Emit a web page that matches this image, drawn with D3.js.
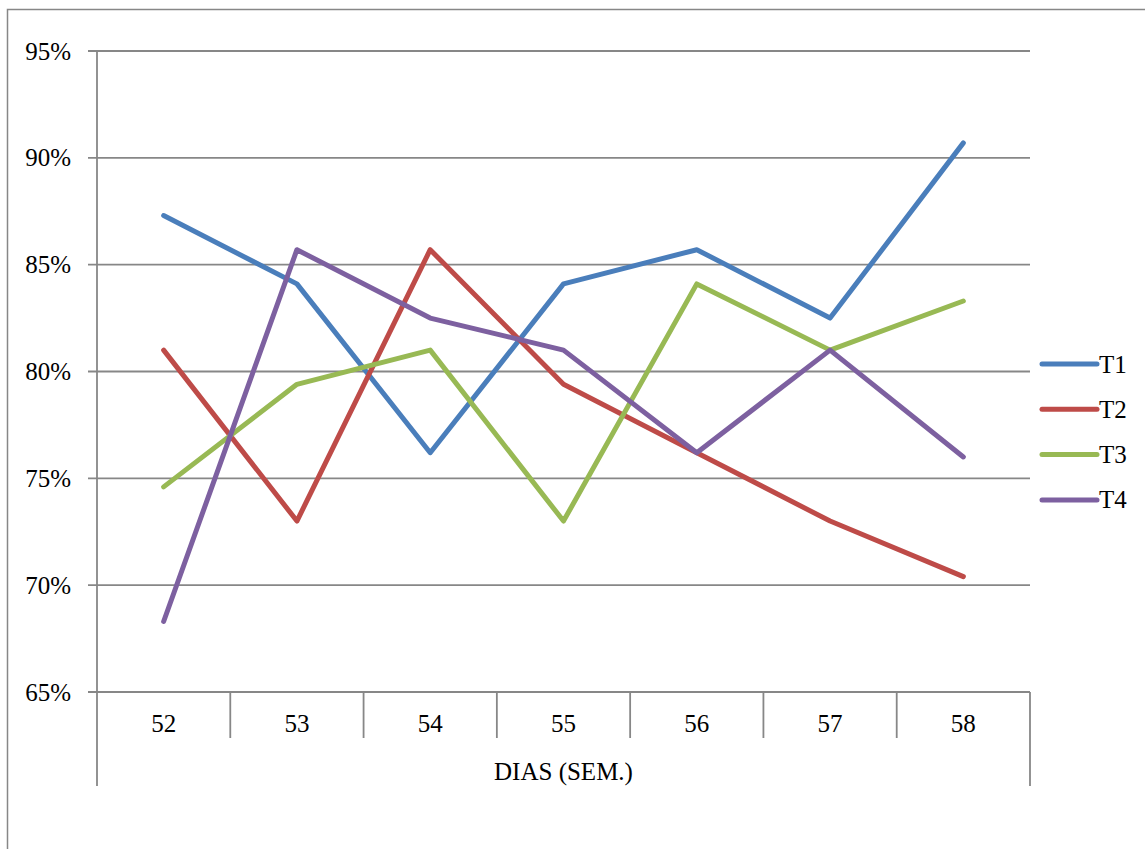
<!DOCTYPE html>
<html>
<head>
<meta charset="utf-8">
<script src="https://cdn.jsdelivr.net/npm/d3@7"></script>
<style>
  html, body { margin: 0; padding: 0; background: #fff; }
  svg { display: block; }
  text { font-family: "Liberation Serif", "Times New Roman", Times, serif; fill: #000; }
</style>
</head>
<body>
<svg id="chart" width="1145" height="849"></svg>
<script>
// Weekly values per treatment (fractions)
const categories = ["52", "53", "54", "55", "56", "57", "58"];
const seriesNames = ["T1", "T2", "T3", "T4"];
const t1 = [0.873, 0.841, 0.762, 0.841, 0.857, 0.825, 0.907];
const t2 = [0.810, 0.730, 0.857, 0.794, 0.762, 0.730, 0.704];
const t3 = [0.746, 0.794, 0.810, 0.730, 0.841, 0.810, 0.833];
const t4 = [0.683, 0.857, 0.825, 0.810, 0.762, 0.810, 0.760];
const yTicks = [0.65, 0.70, 0.75, 0.80, 0.85, 0.90, 0.95];
const colors = ["#4A7EBB", "#BE4B48", "#98B954", "#7D60A0"];
const xTitle = "DIAS (SEM.)";

const series = [t1, t2, t3, t4].map((vals, i) => ({ name: seriesNames[i], values: vals, color: colors[i] }));

const svg = d3.select("#chart");
const plotLeft = 97, plotRight = 1030, plotTop = 51, plotBottom = 692;
const gridColor = "#878787";

const x = d3.scaleBand().domain(categories).range([plotLeft, plotRight]).padding(0);
const y = d3.scaleLinear().domain([0.65, 0.95]).range([plotBottom, plotTop]);

// Outer frame
svg.append("rect")
  .attr("x", 7.5).attr("y", 9.5)
  .attr("width", 1160).attr("height", 860)
  .attr("fill", "none").attr("stroke", gridColor).attr("stroke-width", 1.5);

// Horizontal gridlines with short outward ticks
svg.append("g").selectAll("line")
  .data(yTicks)
  .join("line")
  .attr("x1", plotLeft - 9).attr("x2", plotRight)
  .attr("y1", d => y(d)).attr("y2", d => y(d))
  .attr("stroke", gridColor).attr("stroke-width", 1.8);

// Y tick labels
svg.append("g").selectAll("text")
  .data(yTicks)
  .join("text")
  .attr("x", 71).attr("y", d => y(d))
  .attr("text-anchor", "end")
  .attr("dominant-baseline", "central")
  .style("font-size", "25px")
  .text(d => d3.format(".0%")(d));

// Vertical axis line, extended below the category labels
svg.append("line")
  .attr("x1", plotLeft).attr("x2", plotLeft)
  .attr("y1", plotTop).attr("y2", 786)
  .attr("stroke", gridColor).attr("stroke-width", 1.8);
svg.append("line")
  .attr("x1", plotRight).attr("x2", plotRight)
  .attr("y1", plotBottom).attr("y2", 786)
  .attr("stroke", gridColor).attr("stroke-width", 1.8);

// Category separators
svg.append("g").selectAll("line")
  .data(categories.slice(1))
  .join("line")
  .attr("x1", d => x(d)).attr("x2", d => x(d))
  .attr("y1", plotBottom).attr("y2", 738)
  .attr("stroke", gridColor).attr("stroke-width", 1.8);

// Category labels
svg.append("g").selectAll("text")
  .data(categories)
  .join("text")
  .attr("x", d => x(d) + x.bandwidth() / 2)
  .attr("y", 732)
  .attr("text-anchor", "middle")
  .style("font-size", "25px")
  .text(d => d);

// Axis title
svg.append("text")
  .attr("x", (plotLeft + plotRight) / 2).attr("y", 780)
  .attr("text-anchor", "middle")
  .style("font-size", "25px")
  .text(xTitle);

// Series lines
const line = d3.line()
  .x((d, i) => x(categories[i]) + x.bandwidth() / 2)
  .y(d => y(d));

svg.append("g").selectAll("path")
  .data(series)
  .join("path")
  .attr("d", d => line(d.values))
  .attr("fill", "none")
  .attr("stroke", d => d.color)
  .attr("stroke-width", 5)
  .attr("stroke-linejoin", "round")
  .attr("stroke-linecap", "round");

// Legend
const legend = svg.append("g").selectAll("g")
  .data(series)
  .join("g")
  .attr("transform", (d, i) => `translate(1042, ${364 + i * 45.3})`);
legend.append("line")
  .attr("x1", 0).attr("x2", 55)
  .attr("stroke", d => d.color)
  .attr("stroke-width", 5)
  .attr("stroke-linecap", "round");
legend.append("text")
  .attr("x", 57).attr("y", 0)
  .attr("dominant-baseline", "central")
  .style("font-size", "25px")
  .text(d => d.name);
</script>
</body>
</html>
